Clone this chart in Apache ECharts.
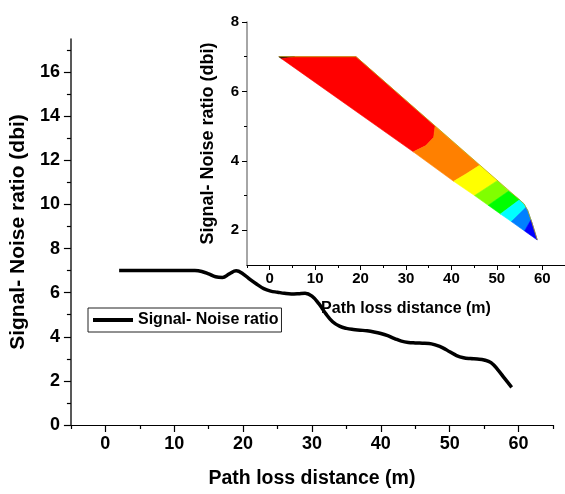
<!DOCTYPE html>
<html>
<head>
<meta charset="utf-8">
<script src="https://cdn.jsdelivr.net/npm/echarts@6/dist/echarts.min.js"></script>
<style>
  html, body { margin: 0; padding: 0; background: #fff; }
  #chart { width: 565px; height: 494px; }
</style>
</head>
<body>
<div id="chart"></div>
<script>
// Signal-to-noise ratio along the path (main curve)
const distance = [2, 5, 8, 11, 13, 14, 15, 16, 17, 18, 19, 20, 21, 22, 23, 24, 25, 26, 27, 28, 29,
  30, 31, 32, 33, 34, 35, 36, 37, 38, 39, 40, 41, 42, 43, 44, 45, 46, 47, 48, 49,
  50, 51, 52, 53, 54, 55, 56, 57, 58, 59];
const snr = [7.0, 7.0, 7.0, 7.0, 7.0, 6.96, 6.85, 6.72, 6.69, 6.85, 6.99, 6.85, 6.6, 6.38, 6.18, 6.07, 6.02, 5.97, 5.94, 5.95, 5.97,
  5.84, 5.5, 5.05, 4.68, 4.48, 4.38, 4.33, 4.3, 4.27, 4.22, 4.15, 4.05, 3.92, 3.8, 3.74, 3.72, 3.71, 3.7, 3.62, 3.5,
  3.32, 3.15, 3.05, 3.01, 2.99, 2.95, 2.83, 2.5, 2.1, 1.71];

// Tick values
const mainXTicks = [0, 10, 20, 30, 40, 50, 60];
const mainXMinor = [-5, 5, 15, 25, 35, 45, 55, 65];
const mainYTicks = [0, 2, 4, 6, 8, 10, 12, 14, 16];
const mainYMinor = [1, 3, 5, 7, 9, 11, 13, 15, 17];
const insetXTicks = [0, 10, 20, 30, 40, 50, 60];
const insetXMinor = [-5, 5, 15, 25, 35, 45, 55, 65];
const insetYTicks = [2, 4, 6, 8];
const insetYMinor = [3, 5, 7];

// Inset filled region: upper outline and straight lower chord
const insetUpper = [[2, 7], [19, 7], [54.8, 2.9], [56.0, 2.76], [56.8, 2.57], [57.7, 2.23], [58.9, 1.72]];
const insetStart = [2, 7];
const insetEnd = [58.9, 1.72];
// Colour band boundaries, each listed from the upper outline down to the chord
const bandBoundaries = [
  [[5.5, 7], [2.6, 6.944]],
  [[36.4, 5.0], [36.1, 4.68], [34.4, 4.44], [31.6, 4.26]],
  [[46.2, 3.87], [43.3, 3.63], [40.5, 3.41]],
  [[50.1, 3.43], [45.1, 3.0]],
  [[52.6, 3.13], [48.1, 2.72]],
  [[55.0, 2.88], [50.8, 2.47]],
  [[56.4, 2.66], [53.2, 2.25]],
  [[57.5, 2.3], [56.1, 1.98]]
];
const bandColors = ['#2a0000', '#ff0000', '#ff8000', '#ffff00', '#80ff00', '#00ff00', '#00ffff', '#0080ff', '#0000ff'];

const FONT = '"Liberation Sans", Arial, sans-serif';

function bandPolygon(i) {
  const left = i === 0 ? [insetStart] : bandBoundaries[i - 1];
  const right = i === bandColors.length - 1 ? [insetEnd] : bandBoundaries[i];
  const xl = left[0][0], xr = right[0][0];
  const mid = insetUpper.filter(p => p[0] > xl && p[0] < xr);
  return left.slice().reverse().concat(mid, right);
}

function valueAxis(opts) {
  const base = {
    type: 'value',
    splitLine: { show: false },
    axisTick: { show: true, inside: false },
    axisLabel: { show: true }
  };
  const out = Object.assign(base, opts);
  out.axisLine = Object.assign({ show: true, lineStyle: { color: '#000', width: 1.2 } }, opts.axisLine || {});
  out.axisLine.onZero = false;
  return out;
}

const mainLabel = { fontFamily: FONT, fontWeight: 'bold', fontSize: 18, color: '#000' };
const insetLabel = { fontFamily: FONT, fontWeight: 'bold', fontSize: 15, color: '#000' };

const chart = echarts.init(document.getElementById('chart'), null, { renderer: 'canvas' });

chart.setOption({
  animation: false,
  backgroundColor: '#fff',
  grid: [
    { left: 70, top: 39, width: 483, height: 389 },
    { left: 247, top: 22, width: 328, height: 243 }
  ],
  xAxis: [
    valueAxis({
      gridIndex: 0, position: 'bottom', min: -5, max: 65,
      axisTick: { customValues: mainXTicks, length: 7, lineStyle: { color: '#000', width: 1.2 } },
      axisLabel: Object.assign({ customValues: mainXTicks, margin: 10 }, mainLabel),
      name: 'Path loss distance (m)', nameLocation: 'middle', nameGap: 44,
      nameTextStyle: { fontFamily: FONT, fontWeight: 'bold', fontSize: 19.5, color: '#000' }
    }),
    valueAxis({
      gridIndex: 0, position: 'bottom', min: -5, max: 65,
      axisLine: { show: false },
      axisTick: { customValues: mainXMinor, length: 4, lineStyle: { color: '#000', width: 1.2 } },
      axisLabel: { show: false }
    }),
    valueAxis({
      gridIndex: 1, position: 'bottom', min: -5, max: 65,
      axisTick: { customValues: insetXTicks, length: 5, lineStyle: { color: '#000' } },
      axisLabel: Object.assign({ customValues: insetXTicks, margin: 6 }, insetLabel),
      name: 'Path loss distance (m)', nameLocation: 'middle', nameGap: 36,
      nameTextStyle: { fontFamily: FONT, fontWeight: 'bold', fontSize: 16, color: '#000' }
    }),
    valueAxis({
      gridIndex: 1, position: 'bottom', min: -5, max: 65,
      axisLine: { show: false },
      axisTick: { customValues: insetXMinor, length: 3, lineStyle: { color: '#000' } },
      axisLabel: { show: false }
    })
  ],
  yAxis: [
    valueAxis({
      gridIndex: 0, position: 'left', min: 0, max: 17.5,
      axisLine: { show: true, lineStyle: { color: '#222', width: 1.5 } },
      axisTick: { customValues: mainYTicks, length: 7, lineStyle: { color: '#000', width: 1.2 } },
      axisLabel: Object.assign({ customValues: mainYTicks, margin: 11 }, mainLabel),
      name: 'Signal- Noise ratio (dbi)', nameLocation: 'middle', nameGap: 38,
      nameTextStyle: { fontFamily: FONT, fontWeight: 'bold', fontSize: 21, color: '#000' }
    }),
    valueAxis({
      gridIndex: 0, position: 'left', min: 0, max: 17.5,
      axisLine: { show: false },
      axisTick: { customValues: mainYMinor, length: 4, lineStyle: { color: '#000', width: 1.2 } },
      axisLabel: { show: false }
    }),
    valueAxis({
      gridIndex: 1, position: 'left', min: 1, max: 8,
      axisLine: { show: true, lineStyle: { color: '#888', width: 1.5 } },
      axisTick: { customValues: insetYTicks, length: 5, lineStyle: { color: '#000' } },
      axisLabel: Object.assign({ customValues: insetYTicks, margin: 8 }, insetLabel),
      name: 'Signal- Noise ratio (dbi)', nameLocation: 'middle', nameGap: 30,
      nameTextStyle: { fontFamily: FONT, fontWeight: 'bold', fontSize: 18, color: '#000' }
    }),
    valueAxis({
      gridIndex: 1, position: 'left', min: 1, max: 8,
      axisLine: { show: false },
      axisTick: { customValues: insetYMinor, length: 3, lineStyle: { color: '#000' } },
      axisLabel: { show: false }
    })
  ],
  legend: {
    left: 88, top: 308,
    orient: 'horizontal',
    padding: [3, 3, 3, 5],
    itemGap: 4,
    itemWidth: 40, itemHeight: 4,
    borderColor: '#222', borderWidth: 1,
    data: [{ name: 'Signal- Noise ratio', icon: 'rect' }],
    textStyle: { fontFamily: FONT, fontWeight: 'bold', fontSize: 16, color: '#000', lineHeight: 18, padding: [0, 0, 0, 0] }
  },
  series: [
    {
      type: 'custom',
      name: 'bands',
      xAxisIndex: 2, yAxisIndex: 2,
      clip: false,
      silent: true,
      data: bandColors.map((c, i) => [i]),
      renderItem: function (params, api) {
        const i = params.dataIndex;
        const pts = bandPolygon(i).map(p => api.coord(p));
        return {
          type: 'polygon',
          shape: { points: pts },
          style: { fill: bandColors[i], stroke: bandColors[i], lineWidth: 0.6 }
        };
      }
    },
    {
      type: 'line',
      name: 'outline',
      xAxisIndex: 2, yAxisIndex: 2,
      data: insetUpper,
      showSymbol: false,
      silent: true,
      lineStyle: { color: '#b8a400', width: 1, opacity: 0.75 },
      z: 3
    },
    {
      type: 'line',
      name: 'Signal- Noise ratio',
      xAxisIndex: 0, yAxisIndex: 0,
      data: distance.map((d, i) => [d, snr[i]]),
      smooth: 0.4,
      showSymbol: false,
      itemStyle: { color: '#000' },
      lineStyle: { color: '#000', width: 3.5 },
      z: 4
    }
  ]
});
</script>
</body>
</html>
